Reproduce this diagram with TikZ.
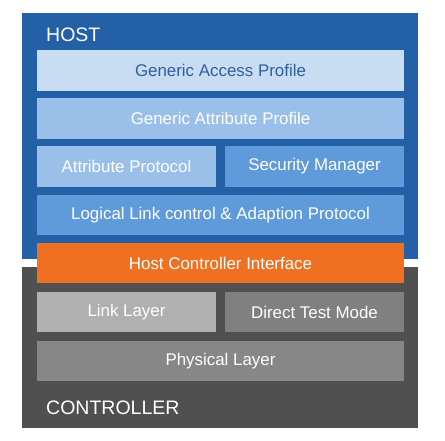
\documentclass[tikz,border=0pt]{standalone}
\usepackage{fontspec}
\setmainfont{Liberation Sans}
\definecolor{hostblue}{HTML}{2360A5}
\definecolor{gapblue}{HTML}{C9DDF2}
\definecolor{gaptext}{HTML}{2F5E9E}
\definecolor{gattblue}{HTML}{9ABFE8}
\definecolor{midblue}{HTML}{5F9ADB}
\definecolor{hciorange}{HTML}{F07021}
\definecolor{ctrlgray}{HTML}{505050}
\definecolor{llgray}{HTML}{B0B0B0}
\definecolor{dtmgray}{HTML}{808080}
\definecolor{phygray}{HTML}{878787}
\tikzset{
  layerbox/.style={inner sep=0pt, minimum height=40.5pt, text=white,
    font=\fontsize{16.9}{20}\selectfont},
  fullbox/.style={layerbox, minimum width=367pt},
  halfbox/.style={layerbox, minimum width=179pt},
  stackbox/.style={inner sep=0pt, minimum width=396pt},
  stacklabel/.style={anchor=west, inner sep=0pt, text=white,
    font=\fontsize{19.5}{22}\selectfont}
}
\begin{document}
\begin{tikzpicture}[x=1pt,y=-1pt]
  \useasboundingbox (0,0) rectangle (445,440);
  % host and controller blocks
  \node[stackbox, fill=ctrlgray, minimum height=161pt] (ctrl) at (220,347.5) {};
  \node[stackbox, fill=hostblue, minimum height=246pt] (host) at (220,136) {};
  \node[stacklabel] (hostlbl) at (46,34.5) {HOST};
  \node[stacklabel] (ctrllbl) at (46,407.5) {CONTROLLER};

  % host layers
  \node[fullbox, fill=gapblue, text=gaptext] (gap) at (220.5,70.5) {Generic Access Profile};
  \node[fullbox, fill=gattblue] (gatt) at (220.5,118.5) {Generic Attribute Profile};
  \node[halfbox, fill=gattblue] (att) at (126.5,166.5) {Attribute Protocol};
  \node[halfbox, fill=midblue] (sm) at (314.5,166.5) {Security Manager};
  \node[fullbox, fill=midblue] (l2cap) at (220.5,215) {Logical Link control \& Adaption Protocol};

  % interface
  \node[fullbox, fill=hciorange] (hci) at (220.5,263) {Host Controller Interface};

  % controller layers
  \node[halfbox, fill=llgray] (ll) at (126.5,312) {Link Layer};
  \node[halfbox, fill=dtmgray] (dtm) at (314.5,312) {Direct Test Mode};
  \node[fullbox, fill=phygray] (phy) at (220.5,361) {Physical Layer};
\end{tikzpicture}
\end{document}
